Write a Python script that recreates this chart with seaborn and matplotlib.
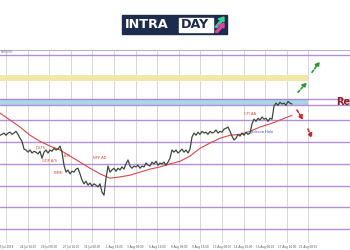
import matplotlib
matplotlib.use("Agg")
import matplotlib.pyplot as plt
from matplotlib.patches import Rectangle, Polygon
import seaborn as sns

sns.set_style("white")
plt.rcParams['font.family'] = ['DejaVu Sans']

# ---------------- data ----------------
price = [1.1166, 1.1168, 1.1171, 1.1166, 1.1171, 1.1173, 1.1168, 1.1171, 1.1175, 1.1168,
         1.1159, 1.1152, 1.1134, 1.1132, 1.1127, 1.1132, 1.1125, 1.1129, 1.1127, 1.1123,
         1.1129, 1.1113, 1.1127, 1.1132, 1.1125, 1.1132, 1.1129, 1.1136, 1.1132, 1.1134,
         1.1141, 1.1127, 1.1097, 1.1081, 1.1086, 1.1077, 1.1083, 1.1081, 1.1088, 1.1090,
         1.1077, 1.1063, 1.1054, 1.1060, 1.1051, 1.1056, 1.1049, 1.1054, 1.1051, 1.1047,
         1.1054, 1.1035, 1.1028, 1.1067, 1.1095, 1.1081, 1.1086, 1.1090, 1.1083, 1.1090,
         1.1086, 1.1093, 1.1088, 1.1100, 1.1109, 1.1095, 1.1090, 1.1095, 1.1093, 1.1097,
         1.1090, 1.1095, 1.1093, 1.1102, 1.1097, 1.1095, 1.1104, 1.1100, 1.1106, 1.1097,
         1.1102, 1.1100, 1.1104, 1.1097, 1.1104, 1.1113, 1.1132, 1.1127, 1.1132, 1.1125,
         1.1129, 1.1134, 1.1127, 1.1132, 1.1125, 1.1134, 1.1162, 1.1171, 1.1166, 1.1173,
         1.1168, 1.1175, 1.1171, 1.1173, 1.1168, 1.1175, 1.1171, 1.1173, 1.1178, 1.1171,
         1.1175, 1.1173, 1.1180, 1.1182, 1.1185, 1.1175, 1.1164, 1.1155, 1.1159, 1.1168,
         1.1164, 1.1171, 1.1166, 1.1173, 1.1168, 1.1171, 1.1192, 1.1203, 1.1198, 1.1205,
         1.1201, 1.1208, 1.1203, 1.1205, 1.1198, 1.1205, 1.1203, 1.1233, 1.1240, 1.1235,
         1.1242, 1.1238, 1.1240, 1.1235, 1.1244, 1.1240, 1.1238]
bar = list(range(len(price)))

ma_bar = [0, 5, 10, 15, 20, 25, 30, 35, 40, 45, 50, 55, 60, 65, 70, 75, 80, 85, 90, 95,
          100, 105, 110, 115, 120, 125, 130, 135, 140, 146]
ma = [1.1217, 1.1201, 1.1185, 1.1166, 1.1152, 1.1141, 1.1132, 1.1118, 1.1104, 1.1090,
      1.1077, 1.1067, 1.1070, 1.1074, 1.1081, 1.1088, 1.1093, 1.1100, 1.1106, 1.1118,
      1.1136, 1.1148, 1.1159, 1.1166, 1.1168, 1.1175, 1.1185, 1.1192, 1.1201, 1.1212]

levels = [1.0950, 1.1000, 1.1050, 1.1100, 1.1150, 1.1200, 1.1235, 1.1250, 1.1350]
resistance_zone = (1.1235, 1.1250)
target_zone = (1.1290, 1.1305)

tick_bar = [3, 13.8, 24.6, 35.4, 46.2, 57, 67.8, 78.6, 89.4, 100.2, 111, 121.8, 132.6, 143.4, 154.2]
tick_labels = ["23 Jul 2018", "24 Jul 16:00", "26 Jul 08:00", "27 Jul 16:00", "31 Jul 08:00",
               "1 Aug 16:00", "3 Aug 08:00", "6 Aug 16:00", "8 Aug 08:00", "9 Aug 16:00",
               "13 Aug 08:00", "14 Aug 16:00", "16 Aug 08:00", "17 Aug 16:00", "21 Aug 08:00"]

events = [("JOLTS", 20, 1.1132, "#d0453a"), ("GDP A/S", 25, 1.1102, "#d0453a"),
          ("ISM", 33.5, 1.1114, "#d0453a"), ("PMMI", 29, 1.1074, "#d0453a"),
          ("NFP AD", 50, 1.1110, "#d0453a"), ("CPI AA", 125, 1.1211, "#d0453a"),
          ("Jackson Hole", 131, 1.1168, "#3a4ec0")]

# ---------------- figure ----------------
fig = plt.figure(figsize=(3.5, 2.5), dpi=100)
fig.patch.set_facecolor("white")
ax = fig.add_axes([0, 0.028, 1, 0.772])
ax.set_xlim(0, 175)
ax.set_ylim(1.09177, 1.13624)

end_hist = tick_bar[-1]
for t in tick_bar:
    ax.axvline(t, color="#cfcfd4", lw=0.6, zorder=0)

ax.fill_between([0, end_hist], target_zone[0], target_zone[1], color="#f1e7a6", lw=0, zorder=1)
ax.fill_between([0, end_hist], resistance_zone[0], resistance_zone[1], color="#a9d7e6", lw=0, zorder=1)

for lv in levels:
    ax.axhline(lv, color="#a77ad0", lw=1.0, alpha=0.85, zorder=2)

sns.lineplot(x=ma_bar, y=ma, ax=ax, color="#d5484a", lw=0.8, zorder=3)
sns.lineplot(x=bar, y=price, ax=ax, color="#3a4a3a", lw=0.9, zorder=4)

for txt, x, y, c in events:
    ax.text(x, y, txt, fontsize=2.6, color=c, ha="center", va="bottom", zorder=5)

def arr(x0, y0, x1, y1, c):
    ax.annotate("", xy=(x1, y1), xytext=(x0, y0),
                arrowprops=dict(arrowstyle="-|>", color=c, lw=1.2, ls=(0, (1.5, 1.2)),
                                mutation_scale=6, shrinkA=0, shrinkB=0), zorder=6)

arr(149, 1.1265, 153.5, 1.1288, "#2f9a34")
arr(156, 1.1311, 160, 1.1336, "#2f9a34")
arr(148.5, 1.1224, 151.5, 1.1201, "#d42424")
arr(154, 1.1180, 156, 1.1159, "#d42424")

ax.text(168, 1.12425, "Resistance", fontsize=7, fontweight="bold", color="#8b1c24",
        ha="left", va="center", zorder=6, clip_on=False)
ax.text(0.5, 1.1358, "EURUSD", fontsize=2.2, color="#777777", ha="left", va="center")

ax.set_xticks(tick_bar)
ax.set_xticklabels(tick_labels, fontsize=2.0, color="#555555")
ax.tick_params(axis="x", length=0, pad=1.5)
ax.set_yticks([])
ax.set_ylabel("")
for s in ["left", "right", "bottom"]:
    ax.spines[s].set_visible(False)
ax.spines["top"].set_color("#b9b3c4")
ax.spines["top"].set_linewidth(0.8)

# ---------------- logo ----------------
W, H = 350.0, 250.0
def fx(px): return px / W
def fy(py): return 1 - py / H

fig.patches.append(Rectangle((fx(122), fy(34)), fx(105), 19 / H, transform=fig.transFigure,
                             color="#1d2b4c", zorder=10))
fig.patches.append(Rectangle((fx(178.5), fy(31.5)), fx(34), 13 / H, transform=fig.transFigure,
                             color="white", zorder=11))
fig.text(fx(125), fy(24.8), "INTRA", color="white", fontsize=9.2, fontweight="bold",
         ha="left", va="center", zorder=12)
fig.text(fx(195.5), fy(24.8), "DAY", color="#1d2b4c", fontsize=9.2, fontweight="bold",
         ha="center", va="center", zorder=12)
fig.patches.append(Polygon([(fx(215), fy(27)), (fx(221), fy(20)), (fx(218), fy(19)), (fx(224), fy(17)),
                            (fx(224), fy(22)), (fx(222.5), fy(21)), (fx(217), fy(27.5))],
                           closed=True, transform=fig.transFigure, color="#3fcf8e", zorder=12))
fig.patches.append(Polygon([(fx(215), fy(32)), (fx(221), fy(26)), (fx(218), fy(25)), (fx(224), fy(23.5)),
                            (fx(224), fy(28)), (fx(222.5), fy(27)), (fx(217.5), fy(32.5))],
                           closed=True, transform=fig.transFigure, color="#e043a5", zorder=12))

fig.savefig("out.png", dpi=100, facecolor="white")
